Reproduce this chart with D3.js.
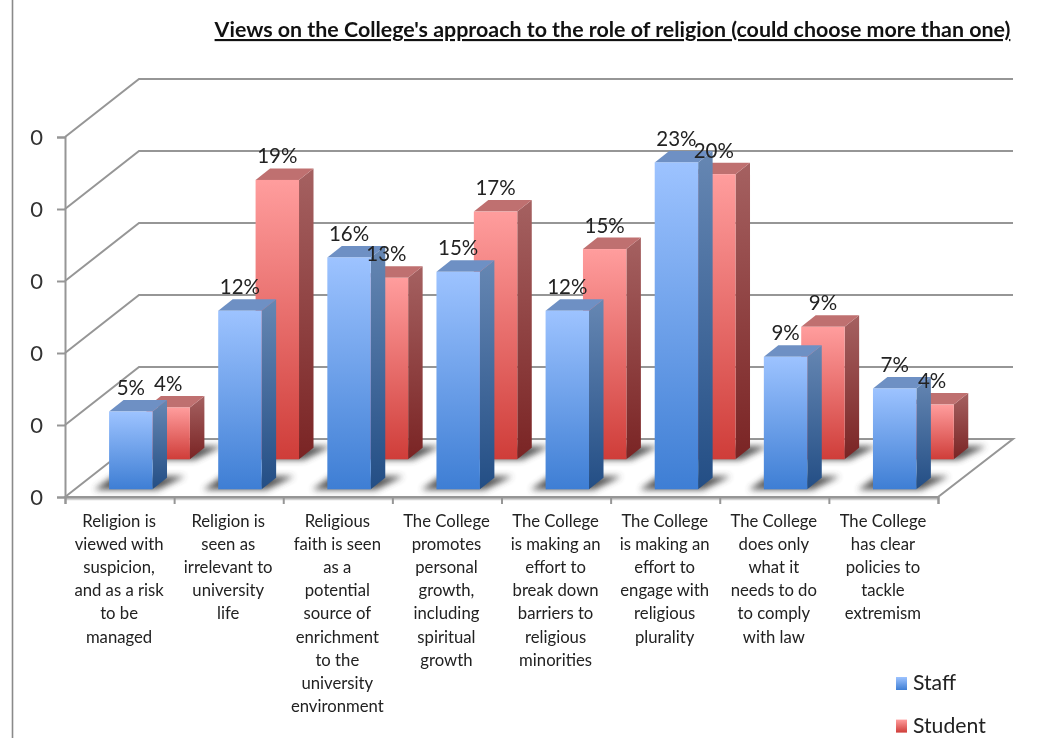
<!DOCTYPE html>
<html><head><meta charset="utf-8">
<script src="https://cdn.jsdelivr.net/npm/d3@7/dist/d3.min.js"></script>
<style>
html,body{margin:0;padding:0;background:#fff;overflow:hidden}
svg{display:block;filter:blur(0.6px)}
text{font-family:Lato,"Open Sans",sans-serif;fill:#222}
</style></head><body>
<script>
const titleText = "Views on the College's approach to the role of religion (could choose more than one)";
const categories = [
  ["Religion is","viewed with","suspicion,","and as a risk","to be","managed"],
  ["Religion is","seen as","irrelevant to","university","life"],
  ["Religious","faith is seen","as a","potential","source of","enrichment","to the","university","environment"],
  ["The College","promotes","personal","growth,","including","spiritual","growth"],
  ["The College","is making an","effort to","break down","barriers to","religious","minorities"],
  ["The College","is making an","effort to","engage with","religious","plurality"],
  ["The College","does only","what it","needs to do","to comply","with law"],
  ["The College","has clear","policies to","tackle","extremism"]
];
const staff   = [0.054,0.124,0.161,0.151,0.124,0.227,0.092,0.070];
const student = [0.036,0.194,0.126,0.172,0.146,0.198,0.092,0.038];
const yTicks  = [0,0.05,0.10,0.15,0.20,0.25];
const seriesNames = ["Staff","Student"];

const W=1039,H=738;
const svg=d3.select("body").append("svg").attr("width",W).attr("height",H);
const defs=svg.append("defs");
function grad(id,a,b){
  const g=defs.append("linearGradient").attr("id",id).attr("x1",0).attr("y1",0).attr("x2",0).attr("y2",1);
  g.append("stop").attr("offset","0%").attr("stop-color",a);
  g.append("stop").attr("offset","100%").attr("stop-color",b);
}
grad("sF","#9dc3ff","#3e7ed4"); grad("sS","#6687b3","#234e85");
grad("rF","#ff9d9d","#cf3d39"); grad("rS","#a56161","#7a2424");
defs.append("filter").attr("id","shadow").attr("x","-30%").attr("y","-80%").attr("width","160%").attr("height","260%")
  .append("feGaussianBlur").attr("stdDeviation",3.4);

const y0=497, yTop=137, xL=65, xR=938, dx=74, dy=-58;
const y=d3.scaleLinear().domain([0,0.25]).range([y0,yTop]);
const x=d3.scaleLinear().domain([0,categories.length]).range([xL,xR]);
const gray="#969696";

// left frame line
svg.append("line").attr("x1",12.5).attr("x2",12.5).attr("y1",0).attr("y2",H).attr("stroke","#8a8a8a").attr("stroke-width",1.6);

// floor
svg.append("path")
  .attr("d",d3.line()([[xL,y(0)],[xL+dx,y(0)+dy],[xR+dx+1,y(0)+dy],[xR,y(0)]])+"Z")
  .attr("fill","#fff").attr("stroke",gray).attr("stroke-width",2);
svg.append("line").attr("x1",xL).attr("x2",xR).attr("y1",y(0)+2).attr("y2",y(0)+2).attr("stroke","#d2d2d2").attr("stroke-width",2.5);

// back grid and slanted wall lines
svg.append("g").selectAll("path").data(yTicks.slice(1)).join("path")
  .attr("fill","none").attr("stroke",gray).attr("stroke-width",2)
  .attr("d",d=>d3.line()([[xL,y(d)],[xL+dx,y(d)+dy],[xR+dx+1,y(d)+dy]]));

// axes
const gy=svg.append("g").attr("transform",`translate(${xL},0)`)
  .call(d3.axisLeft(y).tickValues(yTicks).tickFormat(()=>"0").tickSize(8).tickPadding(14));
const gx=svg.append("g").attr("transform",`translate(0,${y0})`)
  .call(d3.axisBottom(x).ticks(categories.length).tickFormat("").tickSize(7));
[gy,gx].forEach(g=>{
  g.selectAll("path,line").attr("stroke",gray).attr("stroke-width",2);
});
gy.selectAll("text").attr("font-size",22).style("fill","#333");

// bars
const step=x(1)-x(0), barW=step*0.398, sideX=14.5, sideY=-11.5;
const series=[
 {key:"student",vals:student,off:step*0.7465,drop:37.7,f:"rF",s:"rS",t:"#bf7070",sh:"#444"},
 {key:"staff",vals:staff,off:step*0.404,drop:7.7,f:"sF",s:"sS",t:"#6e90c4",sh:"#444"}
];
series.forEach(sr=>{
  const g=svg.append("g").attr("class",sr.key);
  const base=y0-sr.drop;
  g.selectAll("path.shadow").data(sr.vals).join("path").attr("class","shadow")
    .attr("filter","url(#shadow)").attr("fill",sr.sh).attr("opacity",.9)
    .attr("d",(d,i)=>{const l=x(i)+sr.off;return d3.line()([[l-15,base+0.5],[l+barW+5,base+0.5],[l+barW+sideX+18,base-13],[l+4,base-13]])+"Z";});
  const bars=g.selectAll("g.bar").data(sr.vals).join("g").attr("class","bar");
  bars.append("path").attr("fill",`url(#${sr.s})`)
    .attr("d",(d,i)=>{const l=x(i)+sr.off+barW,t=y(d)-sr.drop;
      return d3.line()([[l,t],[l+sideX,t+sideY],[l+sideX,base+sideY],[l,base]])+"Z";});
  bars.append("path").attr("fill",sr.t)
    .attr("d",(d,i)=>{const l=x(i)+sr.off,t=y(d)-sr.drop;
      return d3.line()([[l,t],[l+sideX,t+sideY],[l+barW+sideX,t+sideY],[l+barW,t]])+"Z";});
  bars.append("rect").attr("fill",`url(#${sr.f})`)
    .attr("x",(d,i)=>x(i)+sr.off).attr("width",barW)
    .attr("y",d=>y(d)-sr.drop).attr("height",d=>y0-y(d));
});
// data labels
const pct=d3.format(".0%");
series.forEach(sr=>{
  svg.append("g").selectAll("text").data(sr.vals).join("text")
    .attr("x",(d,i)=>x(i)+sr.off+barW/2).attr("y",d=>y(d)-sr.drop-16.5)
    .attr("text-anchor","middle").attr("font-size",20.5).text(d=>pct(d));
});

// category labels
const cat=svg.append("g").selectAll("text").data(categories).join("text")
  .attr("text-anchor","middle").attr("font-size",16.7);
cat.selectAll("tspan").data((d,i)=>d.map(t=>({t,i}))).join("tspan")
  .attr("x",d=>x(d.i+0.5)-0.5).attr("y",(d,j)=>527+j*23.1).text(d=>d.t);

// title
svg.append("text").attr("x",612.5).attr("y",37).attr("text-anchor","middle")
  .attr("font-size",21.4).attr("font-weight",700).attr("text-decoration","underline").style("fill","#111").text(titleText);

// legend
const lg=svg.append("g").selectAll("g").data(seriesNames).join("g")
  .attr("transform",(d,i)=>`translate(896,${677+i*42.6})`);
lg.append("rect").attr("width",11).attr("height",13).attr("fill",(d,i)=>i?"url(#rF)":"url(#sF)");
lg.append("text").attr("x",17).attr("y",13).attr("font-size",21.2).text(d=>d);
</script>
</body></html>
